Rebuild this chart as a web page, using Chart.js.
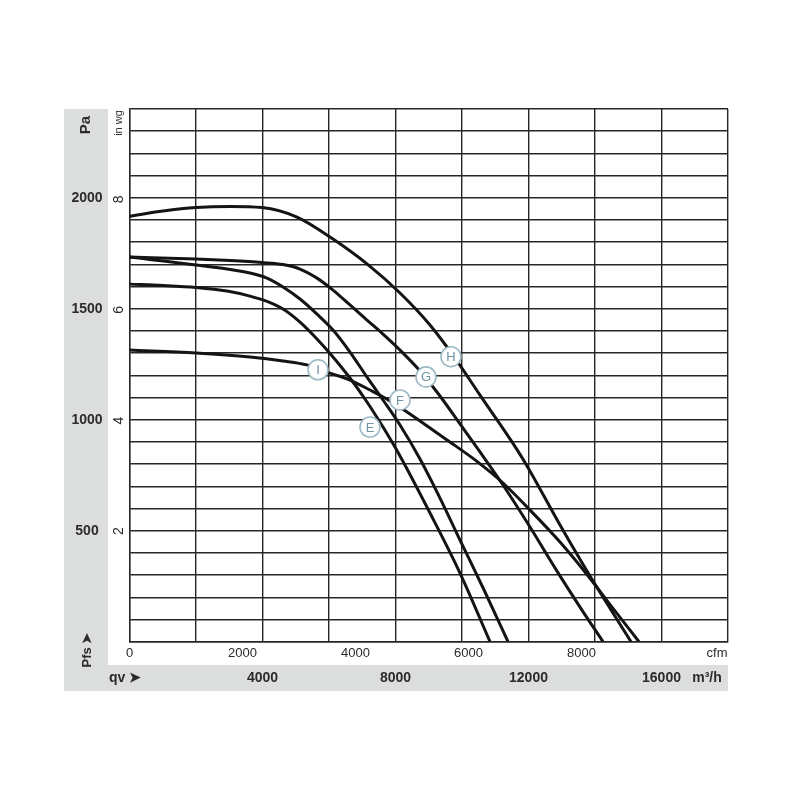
<!DOCTYPE html>
<html>
<head>
<meta charset="utf-8">
<script src="https://cdn.jsdelivr.net/npm/chart.js@4"></script>
<style>
  body { margin: 0; background: #fff; }
  #wrap { width: 800px; height: 800px; }
</style>
</head>
<body>
<div id="wrap"><canvas id="fanChart"></canvas></div>
<script>
// curve points: qv in m³/h, static pressure in Pa
const hFlow = [0, 1008, 2000, 3023, 3985, 5037, 6120, 7143, 8135, 9037, 9789, 10541, 11504, 11955, 12948, 13850, 15083];
const hPres = [1916, 1940, 1956, 1961, 1956, 1913, 1814, 1702, 1571, 1427, 1278, 1111, 900, 792, 526, 296, 0];

const gFlow = [0, 2000, 3023, 3985, 4617, 5128, 5639, 6120, 6631, 7143, 7624, 8135, 8737, 9338, 9940, 10541, 11233, 12045, 12857, 13549, 14240];
const gPres = [1733, 1724, 1717, 1708, 1699, 1679, 1638, 1584, 1517, 1449, 1386, 1314, 1220, 1107, 981, 855, 706, 517, 318, 156, 0];

const fFlow = [0, 2000, 3624, 4135, 4617, 5128, 5639, 6120, 6631, 7143, 7624, 8135, 8737, 9338, 9940, 10692, 11384];
const fPres = [1733, 1697, 1661, 1638, 1598, 1544, 1476, 1404, 1305, 1192, 1089, 976, 823, 647, 458, 224, 0];

const eFlow = [0, 1008, 2000, 2932, 3624, 4135, 4617, 5128, 5639, 6120, 6631, 7143, 7624, 8135, 9037, 9940, 10842];
const ePres = [1611, 1605, 1596, 1580, 1557, 1533, 1499, 1440, 1364, 1283, 1188, 1080, 967, 837, 580, 309, 0];

const iFlow = [0, 2000, 3624, 4617, 5338, 6030, 6631, 7233, 7684, 8346, 9037, 9549, 10391, 11233, 12045, 12947, 13699, 14511, 15323];
const iPres = [1314, 1301, 1283, 1265, 1247, 1210, 1179, 1134, 1098, 1035, 963, 909, 819, 715, 593, 449, 314, 156, 0];

// curve tags and where they sit (m³/h, Pa)
const tagNames = ["I", "E", "F", "G", "H"];
const tagFlow = [5669, 7233, 8135, 8917, 9668];
const tagPres = [1225, 967, 1089, 1193, 1284];

// axis ticks
const paTicks = [500, 1000, 1500, 2000];
const inwgTicks = [2, 4, 6, 8];
const cfmTicks = [0, 2000, 4000, 6000, 8000];
const flowTicks = [4000, 8000, 12000, 16000];

const PA_PER_INWG = 249.09;
const M3H_PER_CFM = 1.699;

function pts(xs, ys) {
  return xs.map((x, i) => ({ x: x, y: ys[i] }));
}

function curve(label, xs, ys) {
  return {
    label: label,
    data: pts(xs, ys),
    showLine: true,
    borderColor: "#141414",
    borderWidth: 3,
    pointRadius: 0,
    cubicInterpolationMode: "monotone",
    fill: false
  };
}

const frame = {
  id: "frame",
  beforeDraw(chart) {
    const ctx = chart.ctx;
    ctx.save();
    ctx.fillStyle = "#ffffff";
    ctx.fillRect(0, 0, chart.width, chart.height);
    ctx.fillStyle = "#dcdedd";
    ctx.fillRect(64, 109, 44, 582);
    ctx.fillRect(64, 665, 664, 26);
    ctx.restore();
  },
  afterDraw(chart) {
    const ctx = chart.ctx;
    const xs = chart.scales.x, ys = chart.scales.y;
    ctx.save();
    ctx.fillStyle = "#2b2b2b";
    ctx.textAlign = "center";
    ctx.textBaseline = "middle";

    // Pa column
    ctx.font = "bold 14px 'Liberation Sans', Arial, sans-serif";
    paTicks.forEach(v => ctx.fillText(String(v), 87, ys.getPixelForValue(v)));
    rotText(ctx, "Pa", 86, 125, "bold 15px 'Liberation Sans', Arial, sans-serif");
    rotText(ctx, "Pfs \u27A4", 87, 650, "bold 13px 'Liberation Sans', Arial, sans-serif");

    // in wg column
    rotText(ctx, "in wg", 119, 123, "11px 'Liberation Sans', Arial, sans-serif");
    inwgTicks.forEach(v => rotText(ctx, String(v), 119, ys.getPixelForValue(v * PA_PER_INWG), "14px 'Liberation Sans', Arial, sans-serif"));

    // cfm row
    ctx.font = "13px 'Liberation Sans', Arial, sans-serif";
    cfmTicks.forEach(v => ctx.fillText(String(v), xs.getPixelForValue(v * M3H_PER_CFM), 653));
    ctx.fillText("cfm", 717, 653);

    // m³/h row
    ctx.font = "bold 14px 'Liberation Sans', Arial, sans-serif";
    flowTicks.forEach(v => ctx.fillText(String(v), xs.getPixelForValue(v), 678));
    ctx.fillText("m\u00B3/h", 707, 678);
    ctx.fillText("qv \u27A4", 125, 678);

    // curve tags
    tagNames.forEach((t, i) => {
      const px = xs.getPixelForValue(tagFlow[i]);
      const py = ys.getPixelForValue(tagPres[i]);
      ctx.beginPath();
      ctx.arc(px, py, 10, 0, Math.PI * 2);
      ctx.fillStyle = "#ffffff";
      ctx.fill();
      ctx.lineWidth = 1.6;
      ctx.strokeStyle = "#9dbac6";
      ctx.stroke();
      ctx.fillStyle = "#6f95a5";
      ctx.font = "13px 'Liberation Sans', Arial, sans-serif";
      ctx.fillText(t, px, py + 1);
    });
    ctx.restore();
  }
};

function rotText(ctx, txt, x, y, font) {
  ctx.save();
  ctx.translate(x, y);
  ctx.rotate(-Math.PI / 2);
  ctx.font = font;
  ctx.fillText(txt, 0, 0);
  ctx.restore();
}

new Chart(document.getElementById("fanChart"), {
  type: "scatter",
  data: {
    datasets: [
      curve("H", hFlow, hPres),
      curve("G", gFlow, gPres),
      curve("F", fFlow, fPres),
      curve("E", eFlow, ePres),
      curve("I", iFlow, iPres)
    ]
  },
  options: {
    responsive: true,
    maintainAspectRatio: false,
    animation: false,
    devicePixelRatio: 1,
    layout: { padding: { left: 129.5, top: 109, right: 72, bottom: 158.3 } },
    plugins: { legend: { display: false }, tooltip: { enabled: false } },
    scales: {
      x: {
        type: "linear", min: 0, max: 18000,
        ticks: { display: false, stepSize: 2000 },
        grid: { color: "#262626", lineWidth: 1.4, drawTicks: false },
        border: { color: "#262626", width: 1.4 },
        afterFit: s => { s.height = 0; }
      },
      y: {
        type: "linear", min: 0, max: 2400,
        ticks: { display: false, stepSize: 100 },
        grid: { color: "#262626", lineWidth: 1.4, drawTicks: false },
        border: { color: "#262626", width: 1.4 },
        afterFit: s => { s.width = 0; }
      }
    }
  },
  plugins: [frame]
});
</script>
</body>
</html>
